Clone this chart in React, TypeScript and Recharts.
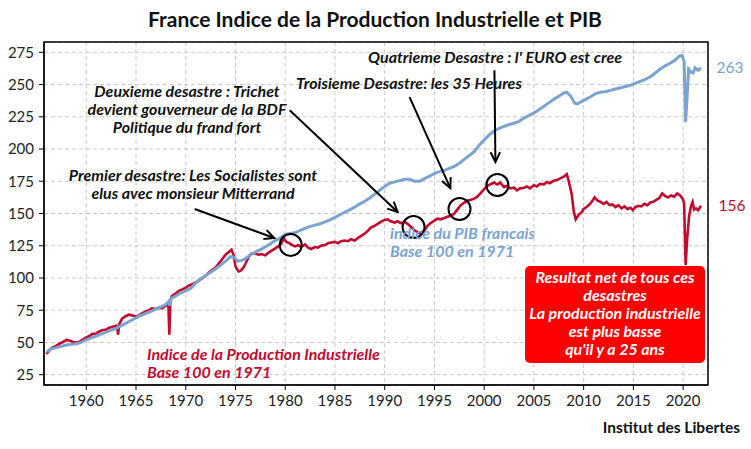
import React from "react";
import { LineChart, Line, XAxis, YAxis, CartesianGrid, ReferenceDot, ReferenceLine, ReferenceArea } from "recharts";

// PIB (blue)
const pibYears = [
    1956.0, 1956.5, 1957.0, 1957.5, 1958.0, 1958.5, 1959.0, 1959.5, 1960.0, 1960.5, 1961.0, 1961.5, 1962.0, 1962.5,
    1963.0, 1963.5, 1964.0, 1964.5, 1965.0, 1965.5, 1966.0, 1966.5, 1967.0, 1967.5, 1968.0, 1968.3, 1968.4, 1968.5,
    1969.0, 1969.5, 1970.0, 1970.5, 1971.0, 1971.5, 1972.0, 1972.5, 1973.0, 1973.5, 1974.0, 1974.5, 1974.9, 1975.2,
    1975.6, 1976.0, 1976.5, 1977.0, 1977.5, 1978.0, 1978.5, 1979.0, 1979.5, 1980.0, 1980.5, 1981.0, 1981.5, 1982.0,
    1982.5, 1983.0, 1983.5, 1984.0, 1984.5, 1985.0, 1985.5, 1986.0, 1986.5, 1987.0, 1987.5, 1988.0, 1988.5, 1989.0,
    1989.5, 1990.0, 1990.5, 1991.0, 1991.5, 1992.0, 1992.5, 1993.0, 1993.5, 1994.0, 1994.5, 1995.0, 1995.5, 1996.0,
    1996.5, 1997.0, 1997.5, 1998.0, 1998.5, 1999.0, 1999.5, 2000.0, 2000.5, 2001.0, 2001.5, 2002.0, 2002.5, 2003.0,
    2003.5, 2004.0, 2004.5, 2005.0, 2005.5, 2006.0, 2006.5, 2007.0, 2007.5, 2008.0, 2008.3, 2008.7, 2009.1, 2009.4,
    2009.8, 2010.2, 2010.7, 2011.2, 2011.7, 2012.2, 2012.7, 2013.2, 2013.7, 2014.2, 2014.7, 2015.2, 2015.7, 2016.2,
    2016.7, 2017.2, 2017.7, 2018.2, 2018.7, 2019.2, 2019.6, 2019.9, 2020.1, 2020.25, 2020.4, 2020.55, 2020.8, 2021.0,
    2021.2, 2021.5, 2021.8,
];
const pibValues = [
    42.8, 45, 46, 47, 48, 48.5, 49, 50, 52, 53.5, 55, 56.5, 58, 59.5,
    61, 63, 65, 67, 69, 71, 72.5, 74, 76, 77.5, 79.5, 82, 78.5, 84,
    86, 88.5, 90, 92, 96, 99.5, 102, 104.5, 107, 110, 113, 116.5, 116, 113,
    113.5, 115, 118, 120, 122, 124, 126.5, 129, 131, 134, 134.5, 135, 137, 138.5,
    140, 141, 142, 143.5, 145, 147, 149, 151, 153, 155, 157.5, 159.5, 162, 165,
    168, 171, 173.5, 174.5, 175.5, 176.5, 176.5, 175, 175, 177, 179, 181, 182.5, 183.5,
    185, 186.5, 189, 192, 195, 198, 203, 207, 211, 214, 216, 217.5, 219, 220,
    221.5, 224, 226, 228, 230.5, 233, 236, 238.5, 241, 243.5, 244, 241, 235.5, 235,
    237, 238.5, 240.5, 243, 244, 244.5, 245.5, 246.5, 247.5, 248.5, 249.5, 251, 252.5, 254,
    256, 259, 262, 264.5, 266.5, 269, 272, 272.5, 268, 221, 240, 262, 259.5, 259,
    263, 261, 263,
];

// Indice de la Production Industrielle (red)
const ipiYears = [
    1956.0, 1956.3, 1956.6, 1957.0, 1957.3, 1957.6, 1958.0, 1958.3, 1958.6, 1959.0, 1959.3, 1959.6, 1960.0, 1960.3,
    1960.6, 1961.0, 1961.3, 1961.6, 1962.0, 1962.3, 1962.6, 1963.0, 1963.1, 1963.2, 1963.3, 1963.6, 1964.0, 1964.3,
    1964.6, 1965.0, 1965.3, 1965.6, 1966.0, 1966.3, 1966.6, 1967.0, 1967.3, 1967.6, 1968.0, 1968.25, 1968.35, 1968.45,
    1968.6, 1969.0, 1969.3, 1969.6, 1970.0, 1970.3, 1970.6, 1971.0, 1971.3, 1971.6, 1972.0, 1972.3, 1972.6, 1973.0,
    1973.3, 1973.6, 1974.0, 1974.3, 1974.6, 1974.8, 1975.0, 1975.3, 1975.5, 1975.8, 1976.0, 1976.3, 1976.6, 1977.0,
    1977.3, 1977.6, 1978.0, 1978.3, 1978.6, 1979.0, 1979.3, 1979.6, 1979.85, 1980.1, 1980.4, 1980.7, 1981.0, 1981.3,
    1981.6, 1982.0, 1982.3, 1982.6, 1983.0, 1983.3, 1983.6, 1984.0, 1984.3, 1984.6, 1985.0, 1985.3, 1985.6, 1986.0,
    1986.3, 1986.6, 1987.0, 1987.3, 1987.6, 1988.0, 1988.3, 1988.6, 1989.0, 1989.3, 1989.6, 1990.0, 1990.3, 1990.6,
    1991.0, 1991.3, 1991.6, 1992.0, 1992.3, 1992.6, 1993.0, 1993.3, 1993.6, 1994.0, 1994.3, 1994.6, 1995.0, 1995.3,
    1995.6, 1996.0, 1996.3, 1996.6, 1997.0, 1997.3, 1997.6, 1998.0, 1998.3, 1998.6, 1999.0, 1999.3, 1999.6, 2000.0,
    2000.3, 2000.6, 2001.0, 2001.3, 2001.6, 2002.0, 2002.3, 2002.6, 2003.0, 2003.3, 2003.6, 2004.0, 2004.3, 2004.6,
    2005.0, 2005.3, 2005.6, 2006.0, 2006.3, 2006.6, 2007.0, 2007.3, 2007.6, 2008.0, 2008.3, 2008.5, 2008.8, 2009.0,
    2009.2, 2009.5, 2009.8, 2010.0, 2010.3, 2010.6, 2010.9, 2011.1, 2011.4, 2011.7, 2012.0, 2012.3, 2012.6, 2012.9,
    2013.2, 2013.5, 2013.8, 2014.1, 2014.4, 2014.7, 2014.95, 2015.2, 2015.5, 2015.8, 2016.1, 2016.4, 2016.7, 2017.0,
    2017.3, 2017.6, 2017.9, 2018.2, 2018.5, 2018.8, 2019.1, 2019.4, 2019.7, 2019.95, 2020.1, 2020.25, 2020.4, 2020.6,
    2020.8, 2020.95, 2021.1, 2021.3, 2021.5, 2021.8,
];
const ipiValues = [
    41, 44, 46, 47.5, 49, 50, 52, 51.5, 50.5, 50, 50.5, 52, 54, 55,
    56.5, 57, 58.5, 59.5, 60, 61.5, 62, 63, 62, 56, 64, 68.5, 70.5, 71.5,
    71, 70, 71, 72.5, 74, 75, 76.5, 76, 77, 76.5, 78.5, 80, 56, 82,
    86, 88, 90, 91, 92.5, 94, 95, 96.5, 98, 99.5, 102, 104, 106, 108,
    111, 114, 118, 120, 122, 118, 109, 105, 105.5, 108, 111, 116, 119, 119,
    118, 118.5, 117.5, 119.5, 121, 123, 124.5, 126.5, 131, 128, 127, 125.5, 124.5, 125.5,
    124, 126, 123.5, 122.5, 124, 123.5, 125, 125.5, 127, 127.5, 128, 127, 128.5, 129,
    128.5, 130, 129, 131, 132.5, 134.5, 136.5, 139, 140.5, 142, 143.5, 145, 145.5, 144,
    143, 144, 142.5, 143.5, 142, 140, 137, 135.5, 134.5, 137, 140.5, 142.5, 144.5, 146,
    145.5, 146.5, 147.5, 148, 150, 153, 156, 158.5, 160, 160.5, 161.5, 163, 165.5, 169,
    171.5, 172.5, 174, 172.5, 174, 170.5, 171.5, 169.5, 170, 168, 169.5, 170, 171, 169.5,
    172, 171, 173, 172.5, 174.5, 173.5, 175.5, 176, 177, 178.5, 180.5, 175, 165, 152,
    145.5, 149, 151, 153.5, 155, 157, 160, 162.5, 160, 159, 157.5, 159, 156.5, 157,
    155, 156.5, 154, 155.5, 153.5, 154.5, 152.5, 155, 156, 155.5, 157.5, 156.5, 158.5, 159,
    160.5, 162, 165.5, 163.5, 162.5, 164, 163, 165.5, 164, 161.5, 158, 110, 130, 148,
    156, 159, 153, 154, 152.5, 156,
];

const xTicks = [1960, 1965, 1970, 1975, 1980, 1985, 1990, 1995, 2000, 2005, 2010, 2015, 2020];
const yTicks = [25, 50, 75, 100, 125, 150, 175, 200, 225, 250, 275];
const xDomain = [1955.75, 2022.5];
const yDomain = [17, 283];

const pibData = pibYears.map((year, i) => ({ year, pib: pibValues[i] }));
const ipiData = ipiYears.map((year, i) => ({ year, ipi: ipiValues[i] }));

const BLUE = "#7ba3cf";
const RED = "#c20a2f";
const FONT = "Lato, 'Open Sans', sans-serif";

// circles marking the "desastres" on the red curve
const markers = [
    { x: 1980.55, y: 125.6 },
    { x: 1992.9, y: 139.5 },
    { x: 1997.52, y: 153.5 },
    { x: 2001.33, y: 172.1 },
];

const arrows = [
    [{ x: 1970.9, y: 153.5 }, { x: 1978.9, y: 131.0 }],
    [{ x: 1980.45, y: 230.1 }, { x: 1991.3, y: 151.2 }],
    [{ x: 1992.5, y: 240.2 }, { x: 1996.6, y: 169.7 }],
    [{ x: 2001.03, y: 261.1 }, { x: 2001.13, y: 189.9 }],
];

const Arrow = (props: any) => {
    const { x1, y1, x2, y2 } = props;
    const a = Math.atan2(y2 - y1, x2 - x1);
    const len = 11;
    const spread = 0.45;
    const p1 = [x2 - len * Math.cos(a - spread), y2 - len * Math.sin(a - spread)];
    const p2 = [x2 - len * Math.cos(a + spread), y2 - len * Math.sin(a + spread)];
    return (
        <g>
            <line x1={x1} y1={y1} x2={x2} y2={y2} stroke="#000" strokeWidth={2} />
            <polyline points={`${p1[0]},${p1[1]} ${x2},${y2} ${p2[0]},${p2[1]}`} fill="none" stroke="#000" strokeWidth={2} />
        </g>
    );
};

const note: React.CSSProperties = { fontFamily: FONT, fontSize: 16, fontWeight: 700, fontStyle: "italic" };

export default function App() {
    return (
        <div style={{ position: "absolute", left: 0, top: 0, width: 751, height: 449, background: "#fff" }}>
            <LineChart width={751} height={449} margin={{ top: 42, right: 43, bottom: 0, left: 0 }}>
                <CartesianGrid stroke="#c8c8c8" strokeDasharray="4 3" />
                <XAxis
                    type="number"
                    dataKey="year"
                    domain={xDomain}
                    ticks={xTicks}
                    allowDataOverflow
                    height={64}
                    tickSize={5}
                    tickMargin={5}
                    stroke="#000"
                    tick={{ fill: "#222", fontSize: 15, fontFamily: FONT }}
                />
                <YAxis
                    type="number"
                    domain={yDomain}
                    ticks={yTicks}
                    allowDataOverflow
                    width={44}
                    tickSize={5}
                    tickMargin={5}
                    stroke="#000"
                    tick={{ fill: "#222", fontSize: 15, fontFamily: FONT }}
                />
                <ReferenceArea x1={xDomain[0]} x2={xDomain[1]} y1={yDomain[0]} y2={yDomain[1]} fill="none" stroke="#000" strokeWidth={1.5} />
                <Line data={ipiData} dataKey="ipi" stroke={RED} strokeWidth={2.6} dot={false} isAnimationActive={false} />
                <Line data={pibData} dataKey="pib" stroke={BLUE} strokeWidth={3} dot={false} isAnimationActive={false} />
                {markers.map((m, i) => (
                    <ReferenceDot key={i} x={m.x} y={m.y} r={11} fill="none" stroke="#000" strokeWidth={2} />
                ))}
                {arrows.map((s, i) => (
                    <ReferenceLine key={i} segment={s} shape={Arrow} />
                ))}
            </LineChart>
            <svg width={751} height={449} style={{ position: "absolute", left: 0, top: 0, pointerEvents: "none" }}>
                <text x={375} y={27} textAnchor="middle" style={{ fontFamily: FONT, fontSize: 21, fontWeight: 700 }} fill="#111">
                    France Indice de la Production Industrielle et PIB
                </text>
                <text x={730} y={73} textAnchor="middle" style={{ fontFamily: FONT, fontSize: 15.5 }} fill={BLUE}>263</text>
                <text x={732} y={211} textAnchor="middle" style={{ fontFamily: FONT, fontSize: 15.5 }} fill={RED}>156</text>

                <g style={note} fill="#111" textAnchor="middle">
                    <text x={495} y={63}>Quatrieme Desastre : l' EURO est cree</text>
                    <text x={409} y={89}>Troisieme Desastre: les 35 Heures</text>
                    <text x={187} y={97}>Deuxieme desastre : Trichet</text>
                    <text x={187} y={115}>devient gouverneur de la BDF</text>
                    <text x={187} y={133}>Politique du frand fort</text>
                    <text x={193} y={181}>Premier desastre: Les Socialistes sont</text>
                    <text x={193} y={199}>elus avec monsieur Mitterrand</text>
                </g>

                <g style={note} fill={RED}>
                    <text x={147} y={360}>Indice de la Production Industrielle</text>
                    <text x={147} y={378}>Base 100 en 1971</text>
                </g>
                <g style={note} fill={BLUE}>
                    <text x={390} y={239}>indice du PIB francais</text>
                    <text x={390} y={257}>Base 100 en 1971</text>
                </g>

                <rect x={525} y={266} width={180} height={97} rx={5} fill="#ff0000" />
                <g style={note} fill="#fff" textAnchor="middle">
                    <text x={615} y={283}>Resultat net de tous ces</text>
                    <text x={615} y={301}>desastres</text>
                    <text x={615} y={319}>La production industrielle</text>
                    <text x={615} y={337}>est plus basse</text>
                    <text x={615} y={355}>qu'il y a 25 ans</text>
                </g>

                <text x={740} y={433} textAnchor="end" style={{ fontFamily: FONT, fontSize: 15.5, fontWeight: 700 }} fill="#111">
                    Institut des Libertes
                </text>
            </svg>
        </div>
    );
}
